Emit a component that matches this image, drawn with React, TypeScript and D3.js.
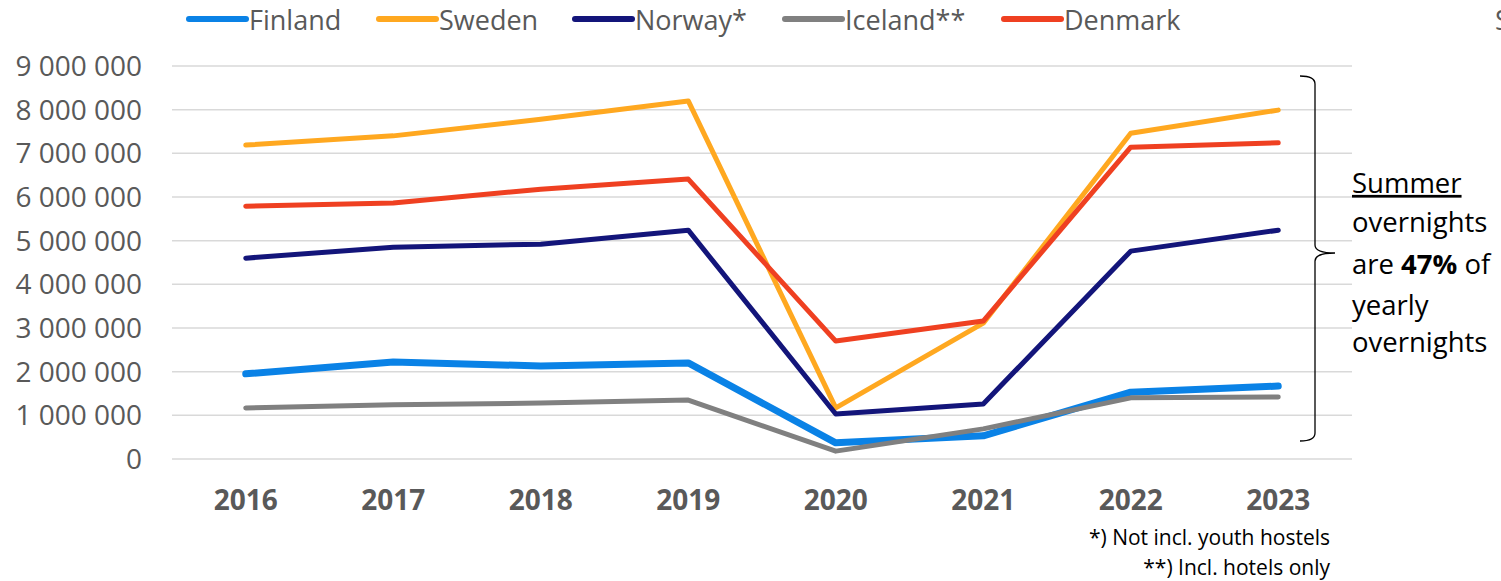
import React from "react";
import * as d3 from "d3";

const years = ["2016", "2017", "2018", "2019", "2020", "2021", "2022", "2023"];
const finland = [1950000, 2220000, 2130000, 2200000, 370000, 530000, 1530000, 1670000];
const sweden = [7190000, 7400000, 7780000, 8200000, 1170000, 3110000, 7460000, 7990000];
const norway = [4600000, 4850000, 4920000, 5240000, 1030000, 1260000, 4760000, 5240000];
const iceland = [1170000, 1240000, 1280000, 1350000, 180000, 690000, 1400000, 1420000];
const denmark = [5790000, 5860000, 6180000, 6410000, 2700000, 3160000, 7140000, 7240000];
const yTicks = [0, 1000000, 2000000, 3000000, 4000000, 5000000, 6000000, 7000000, 8000000, 9000000];

const seriesList = [
  { name: "Finland", values: finland, color: "#0a82e6", width: 7 },
  { name: "Sweden", values: sweden, color: "#ffa820", width: 5 },
  { name: "Norway*", values: norway, color: "#13157a", width: 5 },
  { name: "Iceland**", values: iceland, color: "#808080", width: 5 },
  { name: "Denmark", values: denmark, color: "#ef4021", width: 5 },
];
const legendX = [189, 379, 575, 785, 1004];

const W = 1501;
const H = 581;
const FONT = "'Open Sans', sans-serif";
const GRAY = "#595959";

export default function App() {
  const x = d3.scaleBand().domain(years).range([172, 1352]);
  const y = d3.scaleLinear().domain([0, 9000000]).range([459, 66]);
  const fmt = (v: number) => d3.format(",")(v).replace(/,/g, " ");
  const line = d3
    .line<number>()
    .x((_, i) => (x(years[i]) as number) + x.bandwidth() / 2)
    .y((v) => y(v));

  return (
    <svg width={W} height={H} style={{ position: "absolute", left: 0, top: 0, background: "#fff" }} fontFamily={FONT}>
      {yTicks.map((t) => (
        <line key={t} x1={172} x2={1352} y1={y(t)} y2={y(t)} stroke="#d9d9d9" strokeWidth={1.5} />
      ))}
      {yTicks.map((t) => (
        <text key={t} x={142} y={y(t)} dy="0.36em" textAnchor="end" fontSize={28} fill={GRAY}>
          {fmt(t)}
        </text>
      ))}
      {years.map((yr) => (
        <text
          key={yr}
          x={(x(yr) as number) + x.bandwidth() / 2}
          y={500}
          dy="0.36em"
          textAnchor="middle"
          fontSize={28}
          fontWeight="bold"
          fill={GRAY}
        >
          {yr}
        </text>
      ))}
      {seriesList.map((s) => (
        <path
          key={s.name}
          d={line(s.values) || ""}
          fill="none"
          stroke={s.color}
          strokeWidth={s.width}
          strokeLinejoin="round"
          strokeLinecap="round"
        />
      ))}
      {seriesList.map((s, i) => (
        <g key={s.name}>
          <line x1={legendX[i]} x2={legendX[i] + 57} y1={19} y2={19} stroke={s.color} strokeWidth={6} strokeLinecap="round" />
          <text x={legendX[i] + 60} y={20} dy="0.36em" fontSize={27} fill={GRAY}>
            {s.name}
          </text>
        </g>
      ))}
      <text x={1495} y={20} dy="0.36em" fontSize={27} fill={GRAY}>S</text>
      <path
        d="M1300,76 Q1315,76 1315,84 L1315,245 Q1315,253 1335,253 Q1315,253 1315,261 L1315,433 Q1315,441 1300,441"
        fill="none"
        stroke="#000"
        strokeWidth={1.3}
      />
      <g fontSize={27.5} fill="#000">
        <text x={1352} y={183} dy="0.36em" textDecoration="underline">Summer</text>
        <text x={1352} y={222} dy="0.36em">overnights</text>
        <text x={1352} y={264} dy="0.36em">
          are <tspan fontWeight="bold">47%</tspan> of
        </text>
        <text x={1352} y={305} dy="0.36em">yearly</text>
        <text x={1352} y={342} dy="0.36em">overnights</text>
      </g>
      <g fontSize={21} fill="#000" textAnchor="end">
        <text x={1330} y={537} dy="0.36em">*) Not incl. youth hostels</text>
        <text x={1330} y={567} dy="0.36em">**) Incl. hotels only</text>
      </g>
    </svg>
  );
}
